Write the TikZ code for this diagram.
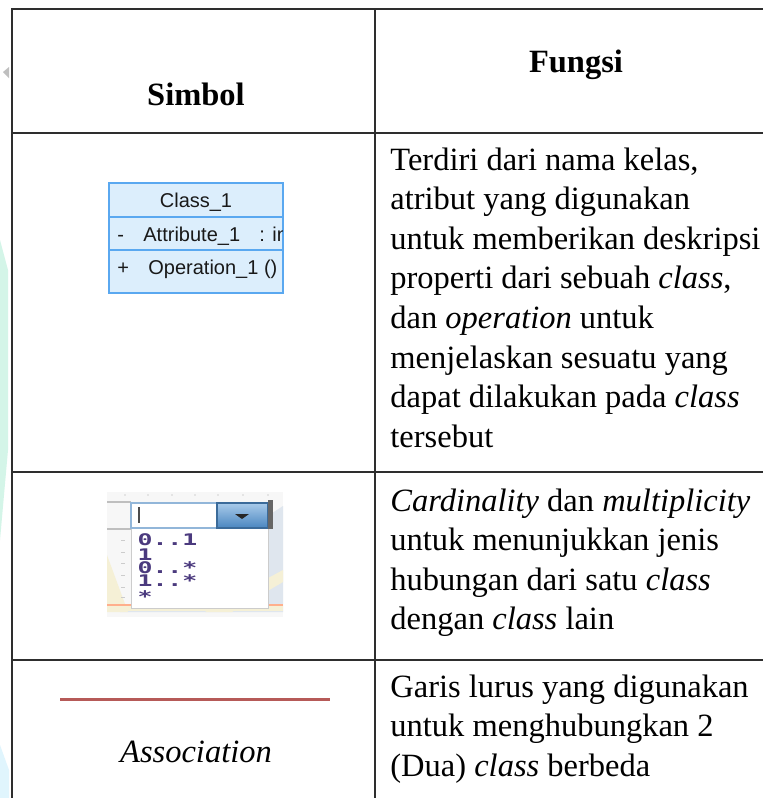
\documentclass[tikz,border=0pt]{standalone}
\usepackage{fontspec}
\setmainfont{Liberation Serif}
\setsansfont{Liberation Sans}
\setmonofont{DejaVu Sans Mono}
\usetikzlibrary{calc}

\definecolor{rulegray}{HTML}{2E2E2E}
\definecolor{umlfill}{HTML}{DCEEFC}
\definecolor{umlborder}{HTML}{5AA8F0}
\definecolor{assocred}{HTML}{B65A58}
\definecolor{listink}{HTML}{4B3A7E}
\definecolor{panelblue}{HTML}{DFE6EE}
\definecolor{panelcream}{HTML}{F5F0D6}
\definecolor{btntop}{HTML}{A9CBEA}
\definecolor{btnbot}{HTML}{4A86C0}
\definecolor{edgemint}{HTML}{D4F5E8}

\newcommand{\cellpar}[1]{\parbox[t]{195pt}{\fontsize{16.25}{19.8}\selectfont #1}}

\tikzset{
  rule/.style={draw=rulegray, line width=1.1pt},
  head/.style={inner sep=0pt, anchor=base, font=\fontsize{16.25}{19.8}\selectfont\bfseries},
  fungsi/.style={inner sep=0pt, anchor=base west},
  umltext/.style={inner sep=0pt, font=\sffamily\fontsize{10}{12}\selectfont, text=black!90},
  listitem/.style={inner sep=0pt, anchor=base west, font=\ttfamily\bfseries\fontsize{8}{9}\selectfont, text=listink, xscale=1.55, transform shape}
}

\begin{document}
\begin{tikzpicture}[x=0.5pt, y=-0.5pt]
  \useasboundingbox (0,0) rectangle (763,798);
  \fill[white] (0,0) rectangle (763,798);

  % faint marks along the left edge
  \fill[edgemint] (0,240) -- (8,270) -- (8,450) -- (0,540) -- cycle;
  \fill[cyan!12] (0,798) -- (0,745) -- (9,770) -- (9,798) -- cycle;
  \fill[black!25] (3,72) -- (9,67) -- (9,78) -- cycle;

  % table grid
  \draw[rule] (12,798) -- (12,9) -- (763,9);
  \draw[rule] (375,9) -- (375,798);
  \draw[rule] (12,133) -- (763,133);
  \draw[rule] (12,472) -- (763,472);
  \draw[rule] (12,660) -- (763,660);

  \node[head] (simbol) at (196,105) {Simbol};
  \node[head] (fungsi) at (576,72) {Fungsi};

  % class box
  \filldraw[fill=umlfill, draw=umlborder, line width=1pt] (109,183) rectangle (283,293);
  \draw[umlborder, line width=1pt] (109,217) -- (283,217);
  \draw[umlborder, line width=1pt] (109,250) -- (283,250);
  \node[umltext, anchor=base] (classname) at (196,207) {Class\_1};
  \begin{scope}
    \clip (110,218) rectangle (282,292);
    \node[umltext, anchor=base west] (attrsign) at (117,241) {-};
    \node[umltext, anchor=base west] (attr) at (143,241) {Attribute\_1};
    \node[umltext, anchor=base west] (attrtype) at (259,241) {: int};
    \node[umltext, anchor=base west] (opsign) at (117,274) {+};
    \node[umltext, anchor=base west] (op) at (148,274) {Operation\_1 ()};
  \end{scope}

  % multiplicity drop-down
  \fill[black!3] (107,492) rectangle (283,617);
  \fill[panelblue] (120,612) -- (283,506) -- (283,612) -- cycle;
  \fill[panelcream] (107,555) -- (128,612) -- (107,612) -- cycle;
  \fill[panelcream] (205,612) -- (283,570) -- (283,582) -- (232,612) -- cycle;
  \fill[panelcream] (107,605) rectangle (283,611);
  \draw[orange!60!red!45, line width=0.6pt] (107,605) -- (283,605);
  \foreach \rx in {125,148,172,195,218,243,268}
    \fill[black!18] (\rx,495) circle (0.8);
  \foreach \ry in {540,552,563,575,587,597}
    \draw[black!20, line width=0.5pt] (121,\ry) -- (125,\ry);
  \draw[black!25, line width=0.8pt] (107,502) -- (131,502);
  \draw[black!25, line width=0.8pt] (107,529) -- (131,529);
  \filldraw[fill=white, draw=black!20, line width=0.5pt] (131,528) rectangle (268,608);
  \filldraw[fill=white, draw=btnbot!60, line width=0.6pt] (131,503) rectangle (217,528);
  \draw[black!70, line width=1.4pt] (139,507) -- (139,523);
  \shade[top color=btntop, bottom color=btnbot, draw=btnbot!80!black, line width=0.6pt] (217,503) rectangle (268,528);
  \fill[black!85] (235,514) -- (249,514) -- (242,519) -- cycle;
  \fill[black!60] (268,500) rectangle (273,529);
  \node[listitem] (m01) at (137,545) {0..1};
  \node[listitem] (m1) at (137,560) {1};
  \node[listitem] (m0n) at (137,573) {0..*};
  \node[listitem] (m1n) at (137,586) {1..*};
  \node[listitem] (mn) at (137,602) {*};

  % association
  \coordinate (assocL) at (60,699);
  \coordinate (assocR) at (330,699);
  \draw[assocred, line width=1.5pt] (assocL) -- (assocR);
  \node[inner sep=0pt, anchor=base, font=\fontsize{16.25}{19.8}\selectfont\itshape] (assoc) at (196,762) {Association};

  \node[fungsi] (desc1) at (390,170) {\cellpar{Terdiri dari nama kelas,\\
    atribut yang digunakan\\
    untuk memberikan deskripsi\\
    properti dari sebuah \textit{class},\\
    dan \textit{operation} untuk\\
    menjelaskan sesuatu yang\\
    dapat dilakukan pada \textit{class}\\
    tersebut}};
  \node[fungsi] (desc2) at (390,511) {\cellpar{\textit{Cardinality} dan \textit{multiplicity}\\
    untuk menunjukkan jenis\\
    hubungan dari satu \textit{class}\\
    dengan \textit{class} lain}};
  \node[fungsi] (desc3) at (390,697) {\cellpar{Garis lurus yang digunakan\\
    untuk menghubungkan 2\\
    (Dua) \textit{class} berbeda}};
\end{tikzpicture}
\end{document}
